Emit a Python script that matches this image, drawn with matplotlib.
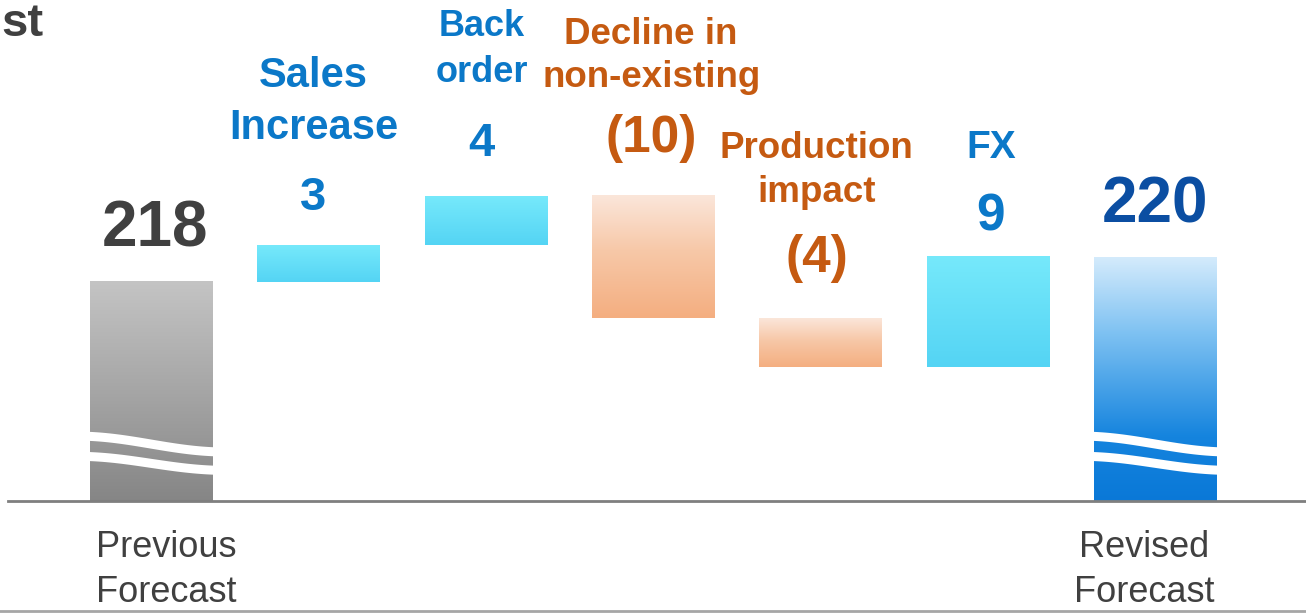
import numpy as np
import matplotlib.pyplot as plt
from matplotlib.colors import LinearSegmentedColormap
from matplotlib.lines import Line2D

plt.rcParams['font.family'] = ['Liberation Sans', 'DejaVu Sans']

# data
titles = ['Previous\nForecast', 'Sales\nIncrease', 'Back\norder',
          'Decline in\nnon-existing', 'Production\nimpact', 'FX', 'Revised\nForecast']
values = [218, 3, 4, -10, -4, 9, 220]
kinds = ['total', 'up', 'up', 'down', 'down', 'up', 'total']

# layout (pixels at 100 dpi)
value_gap = [35, 35, 40, 44, 46, 27, 35]
title_base = [0, 106, 114, 109, 116, 99, 0]
title_step = [0, 52, 46, 43, 44, 0, 0]
title_size = [26, 30, 26, 26.5, 26.5, 28, 26]
value_size = [46, 34, 34, 37, 37, 37, 46]
label_dx = [4, -5, -4, -2, -4, 3, 0]
bottom_dx = [15, 0, 0, 0, 0, 0, -11]

y_lo, y_hi = 200.1, 241.0
width = 0.73

cmaps = {
    'total0': LinearSegmentedColormap.from_list('g', ['#828282', '#a4a4a4', '#c4c4c4']),
    'total1': LinearSegmentedColormap.from_list('b', [(0, '#0876d6'), (0.3, '#1584de'),
                                                      (0.7, '#7dc1f2'), (1, '#d4ebfc')]),
    'up': LinearSegmentedColormap.from_list('c', ['#54d4f4', '#76e9fb']),
    'down': LinearSegmentedColormap.from_list('p', [(0, '#f4ae80'), (0.55, '#f7c8a8'),
                                                    (1, '#fbe6da')]),
}
label_col = {'up': '#0b78c8', 'down': '#c55a11'}
total_col = ['#404040', '#0b4ea2']

W, H = 1306, 613
fig = plt.figure(figsize=(W / 100, H / 100), dpi=100)
ax = fig.add_axes([8 / W, 112 / H, 1 - 8 / W, 501 / H])
ax.set_axis_off()

grad = np.linspace(0, 1, 256).reshape(-1, 1)
pt = 0.72  # points per pixel

running = 0
n_tot = 0
for i, (name, v, k) in enumerate(zip(titles, values, kinds)):
    if k == 'total':
        bot, top = y_lo - 1, v
        running = v
        cmap = cmaps['total%d' % n_tot]
        col = total_col[n_tot]
        n_tot += 1
        txt = str(v)
    else:
        bot, top = sorted([running, running + v])
        running += v
        cmap = cmaps[k]
        col = label_col[k]
        txt = str(v) if v > 0 else '(%d)' % abs(v)
    ax.imshow(grad, extent=[i - width / 2, i + width / 2, bot, top], origin='lower',
              aspect='auto', cmap=cmap, interpolation='bicubic', zorder=2)

    # value label
    ax.annotate(txt, xy=(i, top), xytext=(label_dx[i] * pt, value_gap[i] * pt),
                textcoords='offset points', ha='center', va='baseline',
                fontsize=value_size[i], weight='bold', color=col)

    lines = name.split('\n')
    if k == 'total':
        # axis break waves
        t = np.linspace(0, 1, 120)
        s = (1 - np.cos(np.pi * t)) / 2
        xs = i - width / 2 - 0.08 + t * (width + 0.16)
        for yl, yr in [(5.3, 4.0), (3.65, 2.5)]:
            ax.plot(xs, y_lo + yl + (yr - yl) * s, color='white', lw=6.5,
                    solid_capstyle='butt', zorder=3)
        for j, line in enumerate(lines):
            ax.annotate(line, xy=(i, y_lo), xytext=(bottom_dx[i] * pt, -(56 + 45 * j) * pt),
                        textcoords='offset points', ha='center', va='baseline',
                        fontsize=title_size[i], color='#404040', annotation_clip=False)
    else:
        for j, line in enumerate(lines[::-1]):
            ax.annotate(line, xy=(i, top),
                        xytext=(label_dx[i] * pt, (title_base[i] + title_step[i] * j) * pt),
                        textcoords='offset points', ha='center', va='baseline',
                        fontsize=title_size[i], weight='bold', color=col)

ax.axhline(y_lo, color='#7f7f7f', lw=2, zorder=4, clip_on=False)
ax.set_xlim(-0.854, 6.90)
ax.set_ylim(y_lo, y_hi)

fig.add_artist(Line2D([0, 1], [2 / H, 2 / H], color='#a6a6a6', lw=2, transform=fig.transFigure))
fig.text(1 / W, 1 - 36 / H, 'st', ha='left', va='baseline', fontsize=34,
         weight='bold', color='#404040')

fig.savefig('out.png', dpi=100)
